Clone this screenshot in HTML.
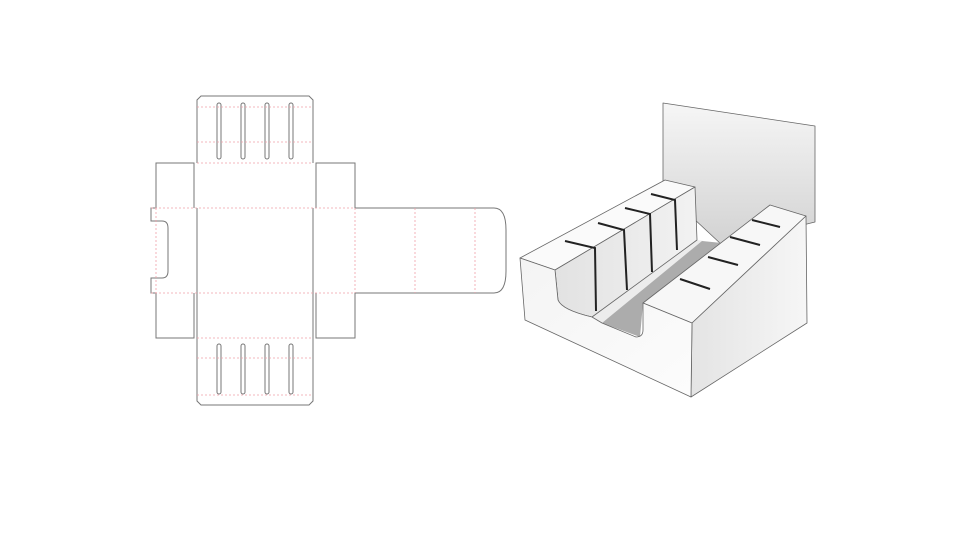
<!DOCTYPE html>
<html><head><meta charset="utf-8"><style>html,body{margin:0;padding:0;background:#fff;width:960px;height:540px;overflow:hidden}</style></head>
<body>
<svg width="960" height="540" viewBox="0 0 960 540" xmlns="http://www.w3.org/2000/svg">
<defs>
<linearGradient id="bp" x1="0" y1="0" x2="0" y2="1"><stop offset="0" stop-color="#f6f6f6"/><stop offset="1" stop-color="#d2d2d2"/></linearGradient>
<linearGradient id="rf" x1="0" y1="0" x2="1" y2="0"><stop offset="0" stop-color="#e4e4e4"/><stop offset="1" stop-color="#f6f6f6"/></linearGradient>
<linearGradient id="lf" x1="0" y1="0" x2="1" y2="0"><stop offset="0" stop-color="#e2e2e2"/><stop offset="1" stop-color="#f2f2f2"/></linearGradient>
<linearGradient id="ff" x1="0" y1="0" x2="1" y2="1"><stop offset="0" stop-color="#f4f4f4"/><stop offset="1" stop-color="#fcfcfc"/></linearGradient>
</defs>
<!-- Dieline -->
<g fill="none" stroke="#777" stroke-width="1">
<path d="M197,163 L197,100 L201,96 L309,96 L313,100 L313,163"/>
<path d="M197,293 L197,401 L201,405 L309,405 L313,401 L313,293"/>
<path d="M194,208 L194,163 L156,163 L156,208 L151,208 L151,221 L162,221 Q168,221 168,228 L168,271 Q168,278 162,278 L151,278 L151,293 L156,293 L156,338 L194,338 L194,293"/>
<path d="M316,208 L316,163 L355,163 L355,208 L494,208 Q506,208 506,230 L506,271 Q506,293 494,293 L355,293 L355,338 L316,338 L316,293"/>
<line x1="197" y1="208" x2="197" y2="293"/>
<line x1="313" y1="208" x2="313" y2="293"/>
</g>
<g fill="#fff" stroke="#777" stroke-width="1">
<rect x="217" y="103" width="4" height="56" rx="2"/><rect x="241" y="103" width="4" height="56" rx="2"/><rect x="265" y="103" width="4" height="56" rx="2"/><rect x="289" y="103" width="4" height="56" rx="2"/>
<rect x="217" y="344" width="4" height="50" rx="2"/><rect x="241" y="344" width="4" height="50" rx="2"/><rect x="265" y="344" width="4" height="50" rx="2"/><rect x="289" y="344" width="4" height="50" rx="2"/>
</g>
<g stroke="#f0a0a8" stroke-width="0.8" stroke-dasharray="2,2" fill="none">
<line x1="197" y1="107" x2="313" y2="107"/><line x1="197" y1="142" x2="313" y2="142"/><line x1="197" y1="163" x2="313" y2="163"/>
<line x1="151" y1="208" x2="355" y2="208"/><line x1="151" y1="293" x2="355" y2="293"/>
<line x1="197" y1="338" x2="313" y2="338"/><line x1="197" y1="358" x2="313" y2="358"/><line x1="197" y1="395" x2="313" y2="395"/>
<line x1="156" y1="208" x2="156" y2="293"/><line x1="355" y1="208" x2="355" y2="293"/>
<line x1="415" y1="208" x2="415" y2="293"/><line x1="475" y1="208" x2="475" y2="293"/>
</g>
<!-- 3D box -->
<g stroke="#666" stroke-width="0.8" stroke-linejoin="round">
<polygon points="663,103 815,126 815,222 722,245 663,190" fill="url(#bp)"/>
<!-- floor strip -->
<polygon points="592,317 697,240 704,241 602,323" fill="#ececec" stroke="none"/>
<!-- channel -->
<polygon points="602,323 640,337 643,303 722,243 702,241" fill="#acacac" stroke="none"/>
<!-- left block top -->
<polygon points="520,258 665,180 695,187 555,270" fill="#fafafa"/>
<!-- left block inner face -->
<path d="M555,270 L695,187 L697,240 L592,317 Q562,310 558,300 Z" fill="url(#lf)"/>
<!-- right block top -->
<polygon points="643,303 692,323 806,216 770,205" fill="#f7f7f7"/>
<!-- right block right face -->
<polygon points="692,323 806,216 807,323 691,397" fill="url(#rf)"/>
<!-- front face -->
<path d="M520,258 L555,270 L558,300 Q562,310 592,317 L602,323 L636,337 Q643,337 643,330 L643,303 L692,323 L691,397 L525,320 Z" fill="url(#ff)"/>
</g>
<g stroke="#222" stroke-width="2" fill="none">
<polyline points="565,241 595,248 596,311"/>
<polyline points="598,223 624,230 627,290"/>
<polyline points="625,208 650,214 652,272"/>
<polyline points="651,194 675,200 677,250"/>
<line x1="680" y1="279" x2="710" y2="289"/>
<line x1="708" y1="257" x2="738" y2="265"/>
<line x1="730" y1="237" x2="760" y2="245"/>
<line x1="752" y1="220" x2="780" y2="227"/>
</g>
</svg>
</body></html>
